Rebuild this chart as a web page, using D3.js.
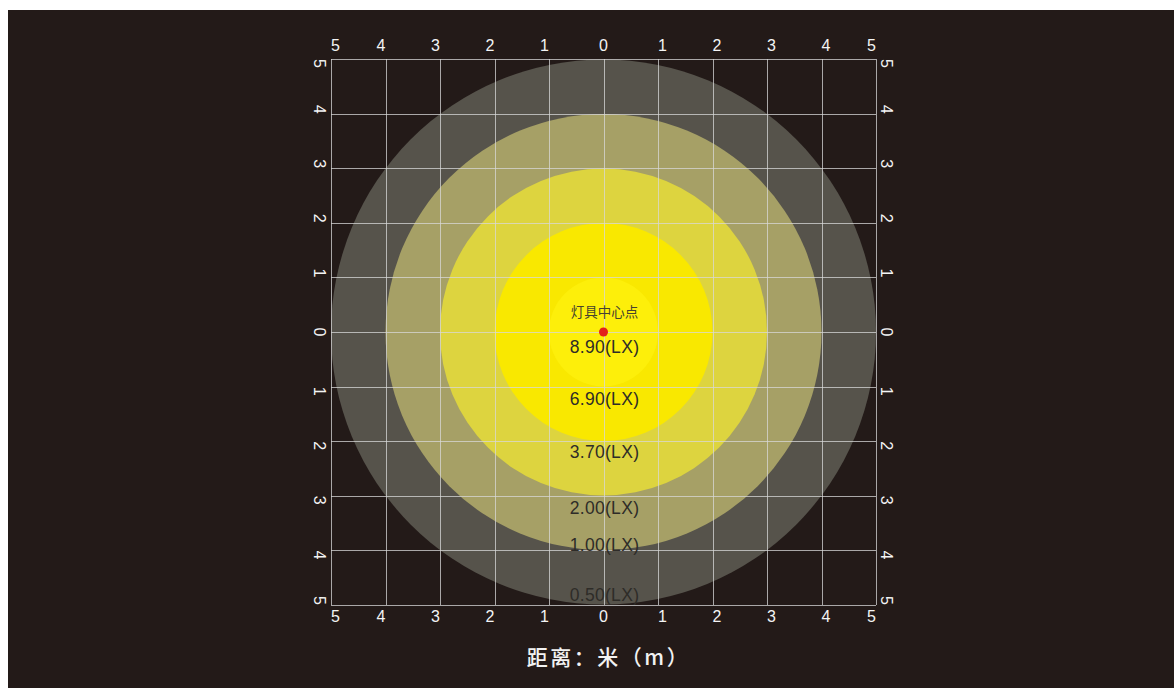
<!DOCTYPE html>
<html>
<head>
<meta charset="utf-8">
<script src="https://cdn.jsdelivr.net/npm/d3@7"></script>
<style>
  html, body { margin: 0; padding: 0; background: #ffffff; }
  #chart { width: 1174px; height: 688px; }
</style>
</head>
<body>
<div id="chart"></div>
<script>
// Grid ticks in metres (both axes, mirrored around the lamp centre)
const gridTicks = [-5, -4, -3, -2, -1, 0, 1, 2, 3, 4, 5];

// Iso-lux rings: radius in metres, illuminance label, distance of the label below centre
const ringRadius = [5, 4, 3, 2, 1];
const ringFill = ['#56534b', '#a6a066', '#ddd43f', '#f9e800', '#fdef0a'];
const luxLabels = ['0.50(LX)', '1.00(LX)', '2.00(LX)', '3.70(LX)', '6.90(LX)', '8.90(LX)'];
const luxLabelDist = [4.82, 3.9, 3.22, 2.2, 1.22, 0.28];

const centreLabel = '灯具中心点';
const axisTitle = '距离：米（m）';

document.addEventListener('DOMContentLoaded', () => {
  renderIlluminanceChart();
});

function renderIlluminanceChart() {
  const width = 1174;
  const height = 688;

  const svg = d3.select('#chart')
    .append('svg')
    .attr('width', width)
    .attr('height', height);

  // dark panel
  svg.append('rect')
    .attr('x', 8)
    .attr('y', 10)
    .attr('width', width - 8)
    .attr('height', height - 10)
    .attr('fill', '#231a18');

  const x = d3.scaleLinear().domain([-5, 5]).range([331, 876]);
  const y = d3.scaleLinear().domain([-5, 5]).range([605, 59]);

  // ============== RINGS ==============
  svg.selectAll('.ring')
    .data(ringRadius)
    .enter()
    .append('circle')
    .attr('class', 'ring')
    .attr('cx', x(0))
    .attr('cy', y(0))
    .attr('r', d => x(d) - x(0))
    .attr('fill', (d, i) => ringFill[i]);

  // ============== GRID ==============
  const grid = svg.append('g')
    .attr('stroke', '#d8d8d8')
    .attr('stroke-opacity', 0.75)
    .attr('stroke-width', 1);

  grid.selectAll('.vline')
    .data(gridTicks)
    .enter()
    .append('line')
    .attr('x1', d => Math.round(x(d)) + 0.5)
    .attr('x2', d => Math.round(x(d)) + 0.5)
    .attr('y1', y(5))
    .attr('y2', y(-5));

  grid.selectAll('.hline')
    .data(gridTicks)
    .enter()
    .append('line')
    .attr('y1', d => Math.round(y(d)) + 0.5)
    .attr('y2', d => Math.round(y(d)) + 0.5)
    .attr('x1', x(-5))
    .attr('x2', x(5));

  // ============== TICK LABELS ==============
  // labels sit a little outward from their line, the end ones a little inward
  const shift = d => d === 0 ? 0 : (Math.abs(d) === 5 ? -Math.sign(d) * 4.5 : Math.sign(d) * 4.5);
  const tickFont = '"Liberation Sans", Arial, sans-serif';

  [y(5) - 8, y(-5) + 17].forEach(ty => {
    svg.append('g')
      .selectAll('text')
      .data(gridTicks)
      .enter()
      .append('text')
      .attr('x', d => x(d) + shift(d))
      .attr('y', ty)
      .attr('text-anchor', 'middle')
      .attr('fill', '#f4f4f4')
      .style('font-family', tickFont)
      .style('font-size', '16px')
      .text(d => Math.abs(d));
  });

  [x(-5) - 11, x(5) + 11].forEach(tx => {
    svg.append('g')
      .selectAll('text')
      .data(gridTicks)
      .enter()
      .append('text')
      .attr('transform', d => `translate(${tx},${y(d) - shift(d)}) rotate(90)`)
      .attr('text-anchor', 'middle')
      .attr('dy', '0.35em')
      .attr('fill', '#f4f4f4')
      .style('font-family', tickFont)
      .style('font-size', '16px')
      .text(d => Math.abs(d));
  });

  // ============== LUX LABELS ==============
  svg.selectAll('.lux')
    .data(luxLabels)
    .enter()
    .append('text')
    .attr('class', 'lux')
    .attr('x', x(0) + 1)
    .attr('y', (d, i) => y(-luxLabelDist[i]))
    .attr('dy', '0.35em')
    .attr('text-anchor', 'middle')
    .attr('fill', '#2e2c28')
    .style('font-family', tickFont)
    .style('font-size', '17.5px')
    .style('letter-spacing', '0.3px')
    .text(d => d);

  svg.append('text')
    .attr('x', x(0) + 1)
    .attr('y', y(0) - 20)
    .attr('dy', '0.35em')
    .attr('text-anchor', 'middle')
    .attr('fill', '#47432e')
    .style('font-family', '"Noto Sans CJK SC", sans-serif')
    .style('font-size', '13.5px')
    .text(centreLabel);

  // lamp centre
  svg.append('circle')
    .attr('cx', x(0))
    .attr('cy', y(0))
    .attr('r', 4.5)
    .attr('fill', '#e3211b');

  // ============== AXIS TITLE ==============
  svg.append('text')
    .attr('x', x(0) + 5)
    .attr('y', 658)
    .attr('dy', '0.35em')
    .attr('text-anchor', 'middle')
    .attr('fill', '#f2f2f2')
    .style('font-family', '"Noto Sans CJK SC", sans-serif')
    .style('font-size', '21px')
    .style('font-weight', 500)
    .style('letter-spacing', '2.5px')
    .text(axisTitle);
}
</script>
</body>
</html>
